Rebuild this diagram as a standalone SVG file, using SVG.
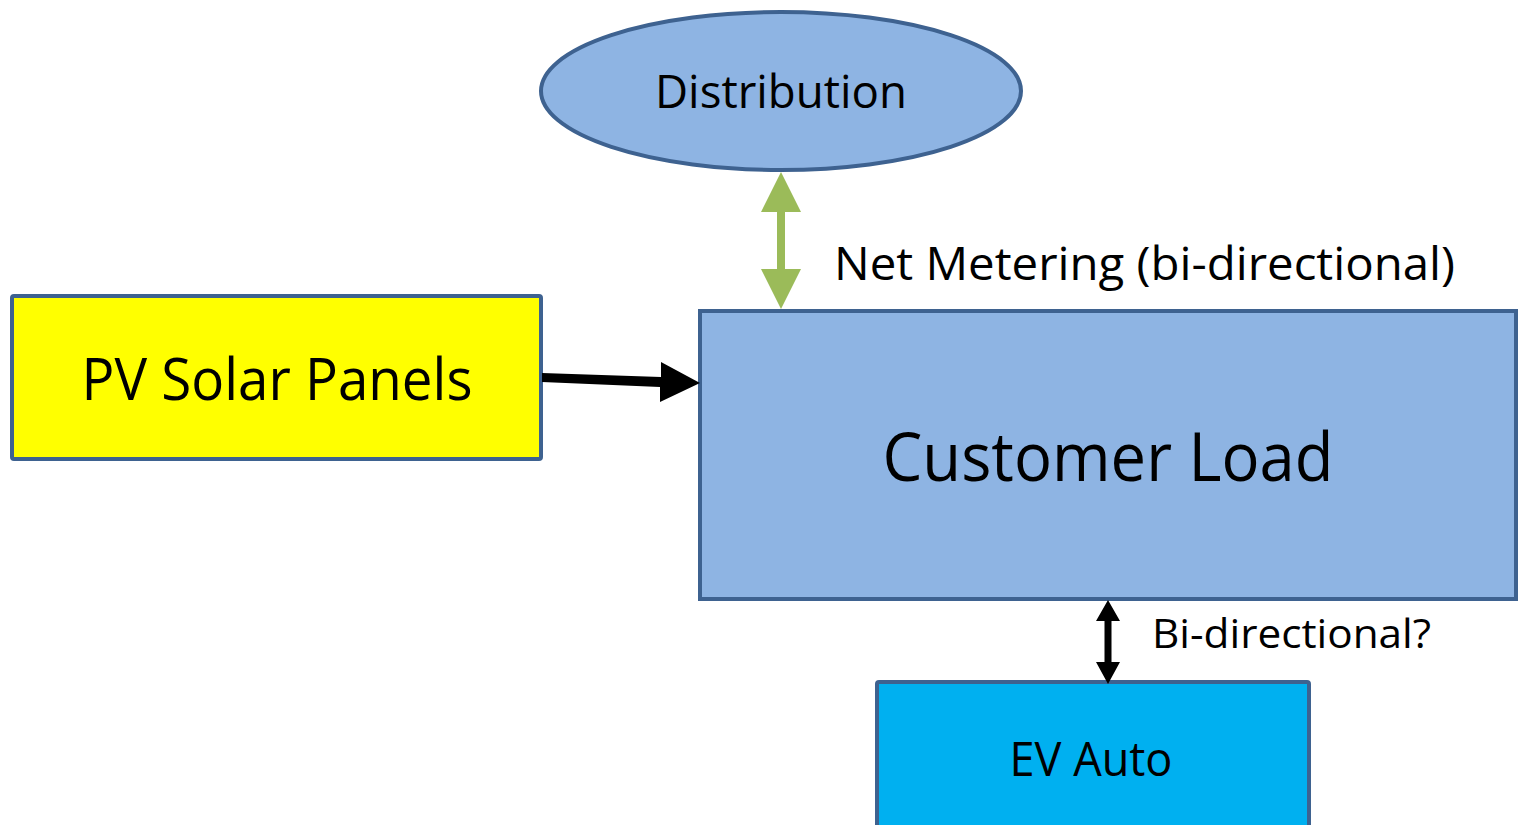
<svg xmlns="http://www.w3.org/2000/svg" width="1518" height="825" viewBox="0 0 1518 825">
<style>
.node{stroke:#3E6290;stroke-width:4}
.t{font-family:"Open Sans","Liberation Sans",sans-serif;fill:#000}
</style>
<rect width="1518" height="825" fill="#fff"/>
<g id="distribution">
<ellipse class="node" cx="781" cy="91" rx="240" ry="79" fill="#8EB4E3"/>
<text class="t" x="781" y="108" font-size="46" text-anchor="middle" textLength="252" lengthAdjust="spacingAndGlyphs">Distribution</text>
</g>
<g id="pv">
<rect class="node" x="12" y="296" width="529" height="163" rx="2" fill="#FFFF00"/>
<text class="t" x="277" y="400" font-size="58" text-anchor="middle" textLength="391" lengthAdjust="spacingAndGlyphs">PV Solar Panels</text>
</g>
<g id="customer">
<rect class="node" x="700" y="311" width="816" height="288" fill="#8EB4E3"/>
<text class="t" x="1108" y="481" font-size="68" text-anchor="middle" textLength="451" lengthAdjust="spacingAndGlyphs">Customer Load</text>
</g>
<g id="ev">
<rect class="node" x="877" y="682" width="432" height="160" rx="2" fill="#00B0F0"/>
<text class="t" x="1091" y="776" font-size="47" text-anchor="middle" textLength="163" lengthAdjust="spacingAndGlyphs">EV Auto</text>
</g>
<g id="connectors">
<polygon fill="#9BBB59" points="781,172 801,212 785,212 785,269 801,269 781,309 761,269 777,269 777,212 761,212"/>
<polygon fill="#000" points="542,373 661,377 661,362 700,383 660,402 660,387 542,382"/>
<polygon fill="#000" points="1108,600 1120,621 1111.5,621 1111.5,662 1120,662 1108,684 1096,662 1104.5,662 1104.5,621 1096,621"/>
<text class="t" x="834" y="280" font-size="46" textLength="621" lengthAdjust="spacingAndGlyphs">Net Metering (bi-directional)</text>
<text class="t" x="1152" y="648" font-size="40" textLength="279" lengthAdjust="spacingAndGlyphs">Bi-directional?</text>
</g>
</svg>
